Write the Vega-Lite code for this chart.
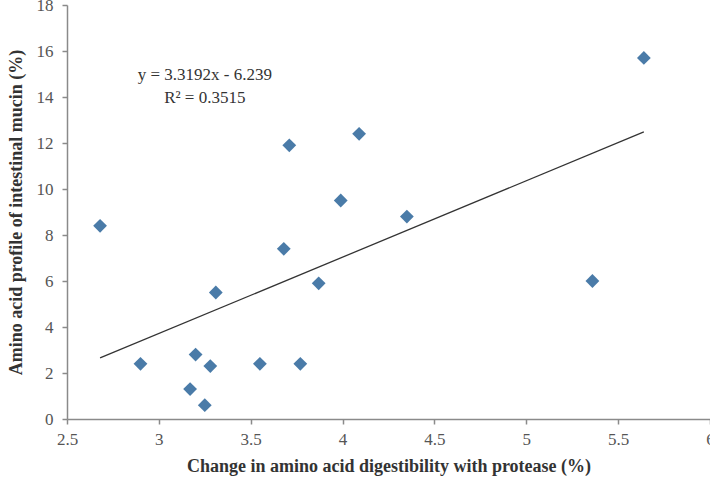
{
  "$schema": "https://vega.github.io/schema/vega-lite/v6.json",
  "width": 643,
  "height": 414,
  "autosize": {"type": "none"},
  "padding": {"left": 67, "top": 5, "right": 0, "bottom": 58},
  "background": "white",
  "config": {
    "view": {"stroke": null},
    "axis": {
      "grid": false,
      "domainColor": "#8a8a8a",
      "domainWidth": 1.5,
      "tickColor": "#8a8a8a",
      "tickSize": 5,
      "tickWidth": 1.5,
      "labelFlush": false,
      "labelOverlap": false,
      "labelFont": "Liberation Serif",
      "labelFontSize": 17,
      "labelColor": "#555555",
      "titleFont": "Liberation Serif",
      "titleFontSize": 18,
      "titleFontWeight": "bold",
      "titleColor": "#333333"
    }
  },
  "datasets": {
    "points": [
      {"x": 2.68, "y": 8.4},
      {"x": 2.9, "y": 2.4},
      {"x": 3.17, "y": 1.3},
      {"x": 3.2, "y": 2.8},
      {"x": 3.25, "y": 0.6},
      {"x": 3.28, "y": 2.3},
      {"x": 3.31, "y": 5.5},
      {"x": 3.55, "y": 2.4},
      {"x": 3.68, "y": 7.4},
      {"x": 3.71, "y": 11.9},
      {"x": 3.77, "y": 2.4},
      {"x": 3.87, "y": 5.9},
      {"x": 3.99, "y": 9.5},
      {"x": 4.09, "y": 12.4},
      {"x": 4.35, "y": 8.8},
      {"x": 5.36, "y": 6.0},
      {"x": 5.64, "y": 15.7}
    ],
    "trend": [
      {"x": 2.68, "y": 2.656},
      {"x": 5.64, "y": 12.481}
    ],
    "notes": [
      {"x": 3.25, "y": 14.95, "label": "y = 3.3192x - 6.239"},
      {"x": 3.25, "y": 13.95, "label": "R² = 0.3515"}
    ]
  },
  "layer": [
    {
      "data": {"name": "points"},
      "mark": {"type": "point", "shape": "diamond", "filled": true, "size": 190, "color": "#4a7ba8", "opacity": 1},
      "encoding": {
        "x": {
          "field": "x", "type": "quantitative",
          "scale": {"domain": [2.5, 6], "nice": false, "zero": false},
          "axis": {"values": [2.5, 3, 3.5, 4, 4.5, 5, 5.5, 6], "format": ".1~f", "labelPadding": 7, "title": "Change in amino acid digestibility with protease (%)", "titlePadding": 10}
        },
        "y": {
          "field": "y", "type": "quantitative",
          "scale": {"domain": [0, 18], "nice": false},
          "axis": {"values": [0, 2, 4, 6, 8, 10, 12, 14, 16, 18], "labelPadding": 9, "title": "Amino acid profile of intestinal mucin (%)", "titlePadding": 11}
        }
      }
    },
    {
      "data": {"name": "trend"},
      "mark": {"type": "line", "color": "#333333", "strokeWidth": 1.3},
      "encoding": {
        "x": {"field": "x", "type": "quantitative"},
        "y": {"field": "y", "type": "quantitative"}
      }
    },
    {
      "data": {"name": "notes"},
      "mark": {"type": "text", "font": "Liberation Serif", "fontSize": 17, "color": "#333333", "align": "center", "baseline": "middle"},
      "encoding": {
        "x": {"field": "x", "type": "quantitative"},
        "y": {"field": "y", "type": "quantitative"},
        "text": {"field": "label"}
      }
    }
  ]
}
